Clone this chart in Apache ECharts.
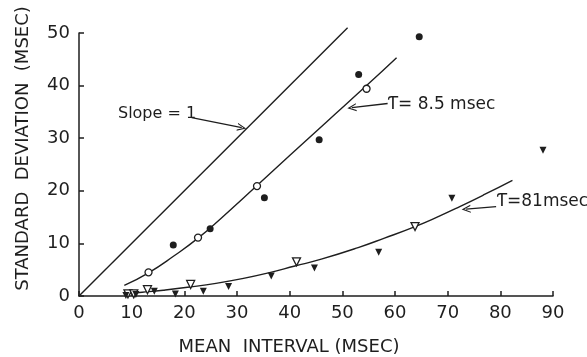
<!DOCTYPE html>
<html>
<head>
<meta charset="utf-8">
<script src="https://cdn.jsdelivr.net/npm/echarts@6/dist/echarts.min.js"></script>
<style>
  html, body { margin: 0; padding: 0; background: #fff; }
  #main { width: 587px; height: 357px; }
</style>
</head>
<body>
<div id="main"></div>
<script>
// tick values
const xTicks = [0, 10, 20, 30, 40, 50, 60, 70, 80, 90];
const yTicks = [0, 10, 20, 30, 40, 50];

// tau = 8.5 msec group
const filledCircles = [[17.9, 9.7], [24.9, 12.8], [35.2, 18.7], [45.6, 29.7], [53.1, 42.1], [64.6, 49.3]];
const openCircles = [[13.2, 4.5], [22.6, 11.1], [33.8, 20.9], [54.6, 39.4]];
const fit85 = [[8.6, 2.0], [13.2, 4.4], [18, 7.6], [22.6, 11.0], [27, 14.8], [33.7, 20.9],
  [40, 26.7], [47, 33.1], [54.6, 40.0], [60.3, 45.3]];

// tau = 81 msec group
const openTriangles = [[9.3, 0.4], [10.4, 0.4], [13.0, 1.2], [21.2, 2.2], [41.3, 6.5], [63.8, 13.2]];
const filledTriangles = [[8.9, 0.1], [10.8, 0.3], [14.3, 0.9], [18.3, 0.4], [23.6, 0.9], [28.4, 1.8],
  [36.5, 3.8], [44.7, 5.3], [56.9, 8.3], [70.8, 18.6], [88.1, 27.7]];
const fit81 = [[8.7, 0.4], [12, 0.7], [16, 1.1], [21, 1.7], [26, 2.4], [31, 3.3], [36, 4.4], [41, 5.7],
  [46, 7.0], [53, 9.2], [58, 11.0], [63.8, 13.2], [68, 15.0], [72.3, 17.0], [77, 19.3], [82.3, 22.0]];

// identity line
const slopeOne = [[0, 0], [51, 51]];

// annotations (data coordinates)
const noteText = ['Slope = 1', 'Ƭ= 8.5 msec', 'Ƭ=81msec'];
const noteSize = [16, 17, 17];
const notePos = [[7.4, 34.7], [58.6, 36.4], [79.3, 17.9]];
const arrowFrom = [[21.4, 33.9], [58.6, 36.6], [79.2, 17.0]];
const arrowTo = [[30.9, 32.0], [51.8, 35.8], [73.5, 16.5]];

const ink = '#1e1e1e';
const font = 'DejaVu Sans';
const chevron = 'path://M0,10 L5,0 L10,10 L8.6,10 L5,3 L1.4,10 Z';

const chart = echarts.init(document.getElementById('main'));

const option = {
    animation: false,
    backgroundColor: '#fff',
    grid: { left: 79, right: 34, top: 33, bottom: 61, outerBoundsMode: 'none', containLabel: false },
    xAxis: {
        type: 'value',
        min: xTicks[0],
        max: xTicks[xTicks.length - 1],
        interval: 10,
        name: 'MEAN  INTERVAL (MSEC)',
        nameLocation: 'middle',
        nameGap: 42,
        nameTextStyle: { color: ink, fontFamily: font, fontSize: 18, padding: [0, 54, 0, 0] },
        axisLine: { lineStyle: { color: ink, width: 1.5 } },
        axisTick: { inside: true, length: 5, lineStyle: { color: ink, width: 1.5 } },
        axisLabel: { color: ink, fontFamily: font, fontSize: 18, margin: 8 },
        splitLine: { show: false }
    },
    yAxis: {
        type: 'value',
        min: yTicks[0],
        max: yTicks[yTicks.length - 1],
        interval: 10,
        name: 'STANDARD  DEVIATION  (MSEC)',
        nameLocation: 'middle',
        nameGap: 47,
        nameTextStyle: { color: ink, fontFamily: font, fontSize: 18, padding: [0, 0, 0, 32] },
        axisLine: { lineStyle: { color: ink, width: 1.5 } },
        axisTick: { inside: true, length: 5, lineStyle: { color: ink, width: 1.5 } },
        axisLabel: { color: ink, fontFamily: font, fontSize: 18, margin: 9 },
        splitLine: { show: false }
    },
    series: [
        {
            type: 'line',
            data: slopeOne,
            clip: false,
            symbol: 'none',
            lineStyle: { color: ink, width: 1.4 },
            markLine: {
                silent: true,
                symbol: ['none', chevron],
                symbolSize: [8, 9],
                label: { show: false },
                lineStyle: { color: ink, width: 1.3, type: 'solid' },
                data: arrowFrom.map((p, i) => [
                    { coord: p, lineStyle: { curveness: i === 0 ? 0.35 : 0.1 } },
                    { coord: arrowTo[i] }
                ])
            }
        },
        {
            type: 'line', data: fit85, smooth: true, symbol: 'none',
            lineStyle: { color: ink, width: 1.4 }
        },
        {
            type: 'line', data: fit81, smooth: true, symbol: 'none',
            lineStyle: { color: ink, width: 1.4 }
        },
        {
            type: 'scatter', data: filledCircles, symbol: 'circle', symbolSize: 7,
            itemStyle: { color: ink, opacity: 1 }, z: 5
        },
        {
            type: 'scatter', data: openCircles, symbol: 'circle', symbolSize: 7,
            itemStyle: { color: '#fff', borderColor: ink, borderWidth: 1.3, opacity: 1 }, z: 5
        },
        {
            type: 'scatter', data: openTriangles, symbol: 'triangle', symbolRotate: 180, symbolSize: 8,
            itemStyle: { color: '#fff', borderColor: ink, borderWidth: 1.3, opacity: 1 }, z: 5
        },
        {
            type: 'scatter', data: filledTriangles, symbol: 'triangle', symbolRotate: 180, symbolSize: 7,
            itemStyle: { color: ink, opacity: 1 }, z: 5
        },
        {
            type: 'scatter',
            symbolSize: 0,
            silent: true,
            data: notePos.map((p, i) => ({
                value: p,
                name: noteText[i],
                label: { fontSize: noteSize[i] }
            })),
            itemStyle: { opacity: 1 },
            label: {
                show: true,
                position: 'right',
                distance: 0,
                formatter: (p) => p.name,
                color: ink,
                fontFamily: font,
                fontSize: 17
            }
        }
    ]
};

chart.setOption(option);
</script>
</body>
</html>
